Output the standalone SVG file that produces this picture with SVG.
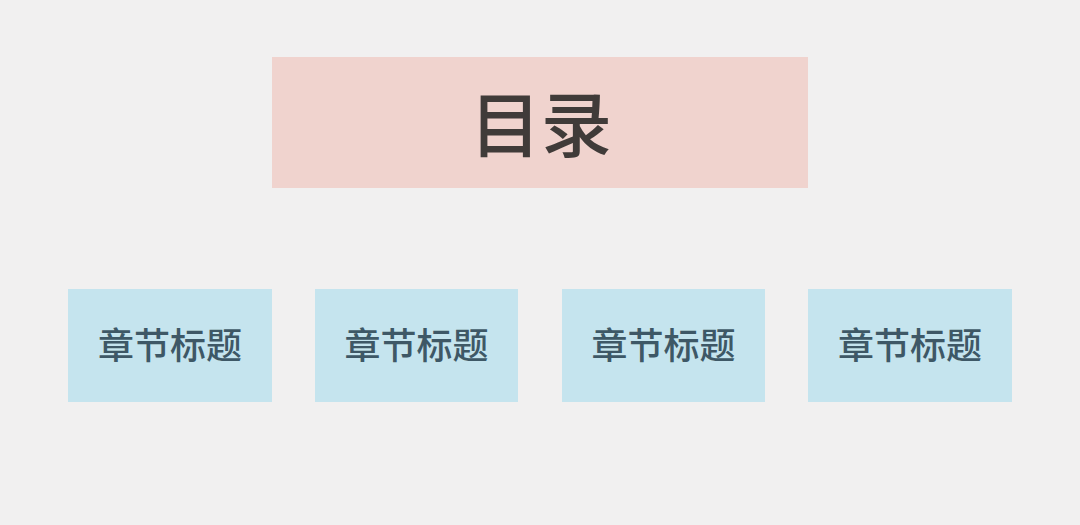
<svg xmlns="http://www.w3.org/2000/svg" width="1080" height="525" viewBox="0 0 1080 525">
<style>
.title{fill:#f0d3ce}
.ch{fill:#c5e4ee}
.tt{font-family:"Noto Sans CJK SC","Noto Sans",sans-serif;font-weight:500;font-size:71px;fill:#403b39;text-anchor:middle;dominant-baseline:central}
.ct{font-family:"Noto Sans CJK SC","Noto Sans",sans-serif;font-weight:500;font-size:36px;fill:#3e5866;text-anchor:middle;dominant-baseline:central}
</style>
<rect width="1080" height="525" fill="#f1f0f0"/>
<g id="connectors"></g>
<g id="node-toc">
<rect class="title" x="272" y="57" width="536" height="131"/>
<text class="tt" x="541" y="120">目录</text>
</g>
<g id="node-ch1">
<rect class="ch" x="68" y="289" width="204" height="113"/>
<text class="ct" x="170" y="343">章节标题</text>
</g>
<g id="node-ch2">
<rect class="ch" x="315" y="289" width="203" height="113"/>
<text class="ct" x="416.5" y="343">章节标题</text>
</g>
<g id="node-ch3">
<rect class="ch" x="562" y="289" width="203" height="113"/>
<text class="ct" x="663.5" y="343">章节标题</text>
</g>
<g id="node-ch4">
<rect class="ch" x="808" y="289" width="204" height="113"/>
<text class="ct" x="910" y="343">章节标题</text>
</g>
</svg>
